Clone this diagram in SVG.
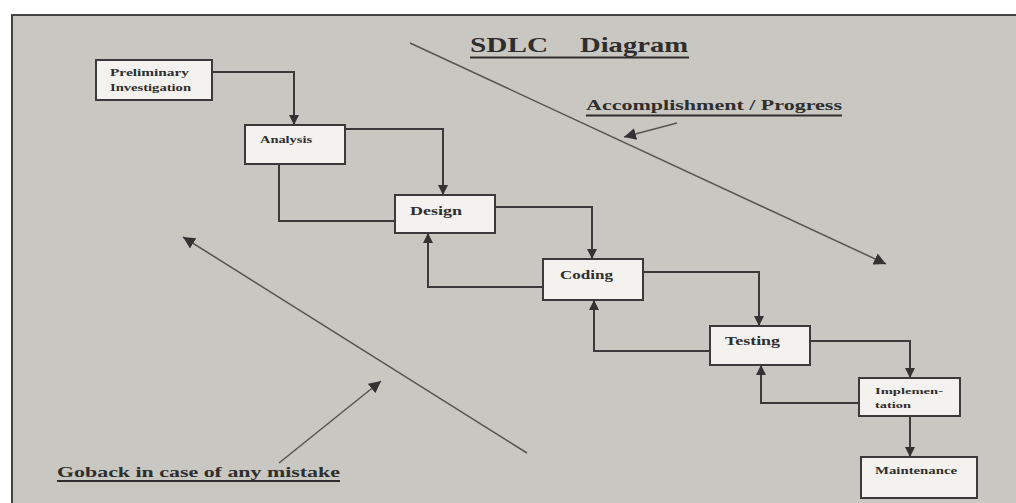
<svg xmlns="http://www.w3.org/2000/svg" width="1016" height="503" viewBox="0 0 1016 503">
<defs>
<style>
.box{fill:#f3f2ee;stroke:#3a3a3a;stroke-width:2}
.t{font-family:"Liberation Serif","DejaVu Serif",serif;font-weight:bold;fill:#2e2e2e}
.c{fill:none;stroke:#3a3a3a;stroke-width:2}
.d{fill:none;stroke:#555;stroke-width:1.5}
.u{stroke:#2e2e2e;stroke-width:2}
</style>
<marker id="ah" viewBox="0 0 10 10" refX="10" refY="5" markerWidth="10" markerHeight="10" markerUnits="userSpaceOnUse" orient="auto">
<path d="M0,0 L10,5 L0,10 Z" fill="#333"/>
</marker>
<marker id="ah2" viewBox="0 0 10 10" refX="10" refY="5" markerWidth="12" markerHeight="12" markerUnits="userSpaceOnUse" orient="auto">
<path d="M0,0 L10,5 L0,10 Z" fill="#333"/>
</marker>
</defs>
<rect x="0" y="0" width="1016" height="503" fill="#ffffff"/>
<rect x="12" y="15" width="1010" height="494" fill="#c9c7c1" stroke="#444" stroke-width="2"/>

<g id="title">
<text class="t" x="470" y="52" font-size="22" textLength="78" lengthAdjust="spacingAndGlyphs">SDLC</text>
<text class="t" x="580" y="52" font-size="22" textLength="108" lengthAdjust="spacingAndGlyphs">Diagram</text>
<line class="u" x1="470" y1="57.5" x2="689" y2="57.5"/>
</g>

<g id="connectors">
<path class="c" d="M212,72 H294 V125" marker-end="url(#ah)"/>
<path class="c" d="M345,129 H443 V195" marker-end="url(#ah)"/>
<path class="c" d="M279,164 V221 H394"/>
<path class="c" d="M495,207 H592 V259" marker-end="url(#ah)"/>
<path class="c" d="M543,287 H428 V233" marker-end="url(#ah)"/>
<path class="c" d="M643,272 H759 V326" marker-end="url(#ah)"/>
<path class="c" d="M710,351 H594 V300" marker-end="url(#ah)"/>
<path class="c" d="M810,341 H910 V378" marker-end="url(#ah)"/>
<path class="c" d="M859,403 H761 V365" marker-end="url(#ah)"/>
<path class="c" d="M910,416 V457" marker-end="url(#ah)"/>
<path class="d" d="M410,43 L886,264" marker-end="url(#ah2)"/>
<path class="d" d="M677,123 L624,137" marker-end="url(#ah2)"/>
<path class="d" d="M527,453 L183,237" marker-end="url(#ah2)"/>
<path class="d" d="M279,463 L381,381" marker-end="url(#ah2)"/>
</g>

<g id="preliminary">
<rect class="box" x="96" y="60" width="116" height="40"/>
<text class="t" x="110" y="76" font-size="10" textLength="79" lengthAdjust="spacingAndGlyphs">Preliminary</text>
<text class="t" x="110" y="91" font-size="10" textLength="81" lengthAdjust="spacingAndGlyphs">Investigation</text>
</g>
<g id="analysis">
<rect class="box" x="245" y="125" width="100" height="39"/>
<text class="t" x="260" y="143" font-size="11" textLength="52" lengthAdjust="spacingAndGlyphs">Analysis</text>
</g>
<g id="design">
<rect class="box" x="395" y="195" width="100" height="38"/>
<text class="t" x="410" y="215" font-size="12" textLength="52" lengthAdjust="spacingAndGlyphs">Design</text>
</g>
<g id="coding">
<rect class="box" x="543" y="259" width="100" height="41"/>
<text class="t" x="560" y="279" font-size="13" textLength="53" lengthAdjust="spacingAndGlyphs">Coding</text>
</g>
<g id="testing">
<rect class="box" x="710" y="326" width="100" height="39"/>
<text class="t" x="725" y="345" font-size="13" textLength="55" lengthAdjust="spacingAndGlyphs">Testing</text>
</g>
<g id="implementation">
<rect class="box" x="859" y="378" width="101" height="38"/>
<text class="t" x="875" y="394" font-size="9" textLength="68" lengthAdjust="spacingAndGlyphs">Implemen-</text>
<text class="t" x="875" y="408" font-size="9" textLength="36" lengthAdjust="spacingAndGlyphs">tation</text>
</g>
<g id="maintenance">
<rect class="box" x="861" y="457" width="116" height="41"/>
<text class="t" x="875" y="474" font-size="10" textLength="82" lengthAdjust="spacingAndGlyphs">Maintenance</text>
</g>

<g id="labels">
<text class="t" x="586" y="110" font-size="15" textLength="256" lengthAdjust="spacingAndGlyphs">Accomplishment / Progress</text>
<line class="u" x1="586" y1="115.5" x2="842" y2="115.5"/>
<text class="t" x="57" y="477" font-size="15" textLength="283" lengthAdjust="spacingAndGlyphs">Goback in case of any mistake</text>
<line class="u" x1="57" y1="481" x2="340" y2="481"/>
</g>
</svg>
